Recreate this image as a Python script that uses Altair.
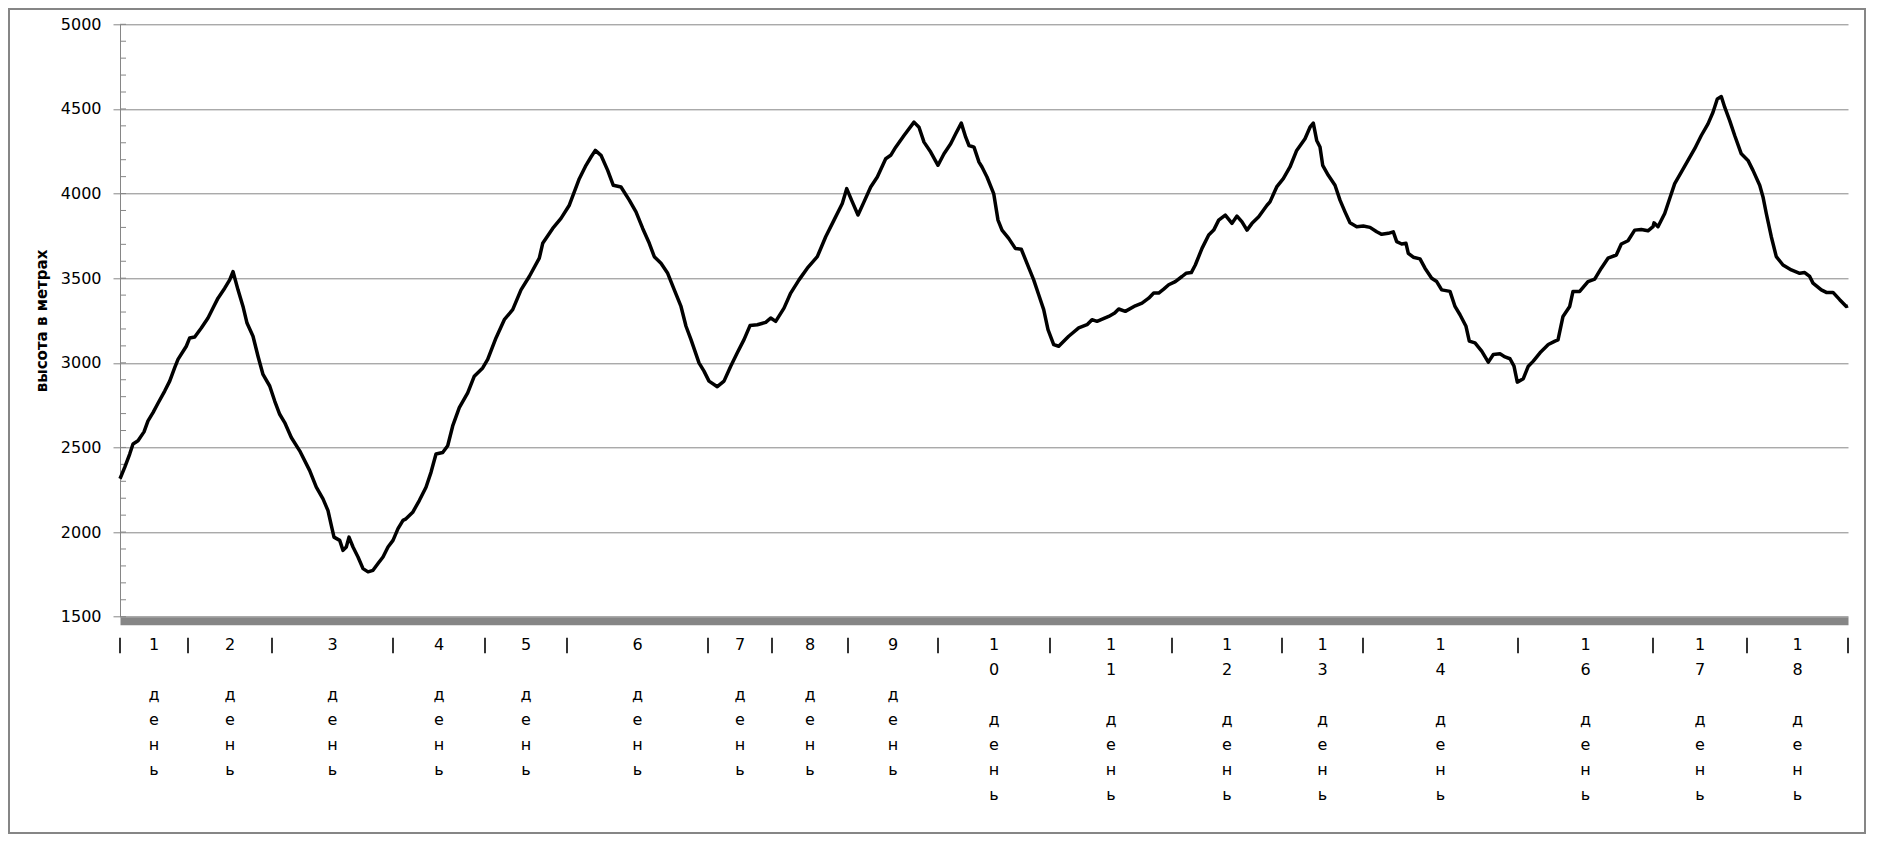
import altair as alt
import pandas as pd

# ---- elevation profile (distance index along route, elevation in metres) ----
dist = [0, 4.7, 9.7, 13, 18, 24, 28, 33, 38, 44.7, 49.7, 54.7, 58, 66.3, 69.7, 74.7, 81.3, 88, 93, 98,
        104.7, 109.7, 113, 118, 123, 127, 133, 138, 143, 149.7, 154.7, 159.7, 164.7, 171.3, 179.7,
        189.7, 196.3, 203, 208, 211.3, 214, 219.7, 223, 226.3, 229, 233, 238, 243, 248, 253, 258,
        263, 268, 273, 278, 283,
        286, 292.7, 299.3, 306, 311, 316, 322.7, 327.7, 332.7, 339.3, 347.7, 354.3, 362.7, 367.7,
        376, 384.3, 392.7, 401, 409.3, 419.3, 422.7, 432.7, 441, 449.3, 454.3, 459.3, 466, 471,
        475.3, 481, 487.7, 493.3, 501, 509.3, 516, 522.7, 529.3, 534.3, 541, 547.7, 554.3, 561,
        566, 571,
        579, 584, 589, 597.3, 604, 610.7, 617.3, 624, 630, 637.3, 645.7, 650.7, 655.7, 664, 670.7,
        679, 687.3, 697.3, 705.7, 714, 722.3, 726.7, 732.3, 738, 744, 750.7, 757.3, 765.7, 770.7,
        775.7, 784, 794, 799, 804, 810.7, 818, 824, 830.7, 835.7, 841.3, 845.7, 849, 854, 859,
        862, 867, 873.7, 878, 882, 888.7, 895.3, 901.3, 907, 913.7, 918.7, 923.7, 928, 933.7,
        938.7, 943.7, 948.7, 958.7, 967, 972, 977, 988.7, 994.7, 998.7, 1005.3, 1015.3, 1022,
        1028.7, 1033.7, 1038.7, 1043.7, 1048.7, 1055.3, 1062, 1066, 1071.3, 1075.3, 1082, 1088.7,
        1093.7, 1098.7, 1105.3, 1112, 1117, 1122, 1127, 1132, 1138.7, 1147,
        1150, 1156.7, 1163.3, 1170, 1176.7, 1185, 1190, 1193.3, 1196.7, 1200, 1202.7, 1208.3,
        1215, 1220, 1225, 1230, 1236.7, 1243.3, 1250, 1256.7, 1261.7, 1268.3, 1273.3, 1276.7,
        1281.7, 1286, 1288.3, 1293.3, 1300, 1305, 1311.7, 1316.7, 1321.7, 1330, 1335, 1340, 1346,
        1349.3, 1355, 1361.7, 1368.3, 1373.3, 1380, 1385, 1390, 1394, 1397.3, 1403.3, 1408.3,
        1413.3, 1420, 1428.3, 1435,
        1438, 1443, 1449.7, 1453, 1459.7, 1468, 1474.7, 1481.3, 1488, 1496.3, 1501.3, 1508,
        1514.7, 1521.3, 1528, 1533, 1534, 1538, 1544.7, 1549.7, 1554.7, 1561.3, 1568, 1574.7,
        1581.3, 1588, 1593, 1597.3, 1601.3, 1604.7, 1609.7, 1614.7, 1621.3, 1628, 1633, 1639.7,
        1643, 1646.3, 1651.3, 1656.3, 1663, 1671.3, 1679.7, 1684.7, 1689.7, 1693, 1701.3, 1706.3,
        1713, 1719.7, 1726.3, 1728]

elev = [2315, 2382, 2461, 2520, 2539, 2592, 2657, 2706, 2761, 2833, 2892, 2971, 3020, 3098, 3147,
        3153, 3206, 3265, 3324, 3382, 3441, 3490, 3539, 3431, 3333, 3235, 3157, 3039, 2931, 2863,
        2774, 2696, 2647, 2559, 2480, 2363, 2265, 2196, 2127, 2039, 1970, 1951, 1892, 1912, 1970,
        1912, 1853, 1784, 1765, 1774, 1814, 1853, 1912, 1951, 2020, 2069,
        2078, 2117, 2186, 2265, 2353, 2461, 2470, 2510, 2627, 2735, 2823, 2921, 2970, 3020, 3147,
        3255, 3314, 3431, 3510, 3618, 3706, 3794, 3853, 3931, 4010, 4088, 4167, 4216, 4255, 4226,
        4137, 4049, 4039, 3961, 3892, 3794, 3706, 3627, 3588, 3529, 3431, 3333, 3216, 3137,
        3000, 2951, 2892, 2859, 2892, 2980, 3059, 3137, 3220, 3225, 3239, 3265, 3245, 3323, 3412,
        3490, 3559, 3627, 3745, 3843, 3941, 4029, 3951, 3873, 3951, 4039, 4098, 4206, 4226, 4274,
        4343, 4422, 4392, 4304, 4245, 4167, 4235, 4294, 4353, 4416, 4333, 4284, 4274, 4186,
        4157, 4098, 4000, 3843, 3784, 3735, 3676, 3671, 3588, 3490, 3402, 3314, 3196, 3108, 3098,
        3128, 3157, 3206, 3225, 3255, 3245, 3274, 3294, 3318, 3304, 3337, 3353, 3382, 3412, 3412,
        3435, 3461, 3480, 3510, 3529, 3533, 3578, 3676, 3755, 3784, 3843, 3873, 3824, 3867, 3833,
        3784, 3824, 3863, 3931,
        3951, 4039, 4088, 4157, 4255, 4324, 4392, 4416, 4314, 4275, 4167, 4108, 4049, 3961, 3892,
        3827, 3804, 3808, 3800, 3774, 3759, 3765, 3774, 3716, 3702, 3706, 3647, 3624, 3614, 3559,
        3500, 3480, 3431, 3422, 3333, 3284, 3216, 3128, 3118, 3069, 3004, 3049, 3053, 3035, 3024,
        2980, 2886, 2906, 2980, 3010, 3059, 3108, 3128,
        3135, 3274, 3333, 3422, 3422, 3480, 3494, 3559, 3618, 3637, 3702, 3721, 3784, 3788, 3780,
        3804, 3827, 3804, 3882, 3971, 4059, 4127, 4196, 4265, 4343, 4412, 4480, 4559, 4573, 4510,
        4431, 4343, 4235, 4196, 4137, 4049, 3980, 3882, 3745, 3627, 3578, 3549, 3529, 3533, 3510,
        3471, 3431, 3416, 3416, 3373, 3333, 3337]

# ---- day boundaries (same distance units) and day labels ----
day_bounds = [0, 68, 152, 273, 365, 447, 588, 652, 728, 818, 930, 1052, 1162, 1243, 1398, 1533, 1627, 1728]
day_numbers = ["1", "2", "3", "4", "5", "6", "7", "8", "9", "10", "11", "12", "13", "14", "16", "17", "18"]
day_word = "день"

y_major = [1500, 2000, 2500, 3000, 3500, 4000, 4500, 5000]
y_minor = list(range(1500, 5001, 100))

GRAY = "#868686"
FONT = "DejaVu Sans"
LINE_H = 25
W, H = 1728, 592.4
TOTAL_W, TOTAL_H = 1858, 826
PAD = {"left": 112, "top": 16.3, "right": TOTAL_W - 112 - W, "bottom": TOTAL_H - 16.3 - H}

prof = pd.DataFrame({"dist": dist, "elev": elev})
mids = [(a + b) / 2 for a, b in zip(day_bounds[:-1], day_bounds[1:])]
lab = pd.DataFrame({
    "mid": mids,
    "num": ["\n".join(list(n)) for n in day_numbers],
    "word": ["\n".join(list(day_word))] * len(day_numbers),
    # the word starts one blank line below the (vertically stacked) day number
    "off": [(len(n) + 1) * LINE_H for n in day_numbers],
})
sep = pd.DataFrame({"b": day_bounds})
minor = pd.DataFrame({"v": y_minor})

xscale = alt.Scale(domain=[0, 1728], nice=False, zero=False)
yscale = alt.Scale(domain=[1500, 5000], nice=False, zero=False)

line = alt.Chart(prof).mark_line(color="black", strokeWidth=3.5, strokeJoin="round").encode(
    x=alt.X("dist:Q", scale=xscale,
            axis=alt.Axis(domain=True, domainWidth=8, domainColor=GRAY, ticks=False, labels=False,
                          grid=False, offset=4, title=None)),
    y=alt.Y("elev:Q", scale=yscale,
            axis=alt.Axis(values=y_major, format="d", grid=True, gridColor=GRAY, gridWidth=1,
                          gridOpacity=1, tickColor=GRAY, tickSize=7, tickWidth=1,
                          domainColor=GRAY, domainWidth=1,
                          labelFont=FONT, labelFontSize=16, labelColor="black", labelPadding=12,
                          labelFlush=False, labelOverlap=False,
                          title="высота в метрах", titleFont=FONT, titleFontSize=15,
                          titleFontWeight="bold", titleColor="black", titleAngle=270,
                          titleX=-73.3, titleY=H / 2, titleAlign="center",
                          titleBaseline="alphabetic")),
)

minor_ticks = alt.Chart(minor).mark_rule(color=GRAY, strokeWidth=1).encode(
    y=alt.Y("v:Q", scale=yscale), x=alt.value(0), x2=alt.value(6))

num_labels = alt.Chart(lab).mark_text(font=FONT, fontSize=16, lineBreak="\n", lineHeight=LINE_H,
                                      baseline="top", align="center", color="black").encode(
    x=alt.X("mid:Q", scale=xscale), y=alt.value(H + 20.3), text="num:N")

word_labels = alt.Chart(lab).mark_text(font=FONT, fontSize=16, lineBreak="\n", lineHeight=LINE_H,
                                       baseline="top", align="center", color="black").encode(
    x=alt.X("mid:Q", scale=xscale), y=alt.value(H + 20.3),
    yOffset=alt.YOffset("off:Q", scale=None), text="word:N")

seps = alt.Chart(sep).mark_rule(color="black", strokeWidth=1.6).encode(
    x=alt.X("b:Q", scale=xscale), y=alt.value(H + 21), y2=alt.value(H + 36.5))

frame = alt.Chart(pd.DataFrame({"k": [0]})).mark_rect(filled=False, stroke=GRAY, strokeWidth=2).encode(
    x=alt.value(-PAD["left"] + 1), x2=alt.value(W + PAD["right"] - 1),
    y=alt.value(-PAD["top"] + 1), y2=alt.value(H + PAD["bottom"] - 1))

chart = alt.layer(minor_ticks, line, num_labels, word_labels, seps, frame).properties(
    width=W, height=H, padding=PAD, autosize=alt.AutoSizeParams(type="none"),
    background="white",
).configure_view(stroke=None)

chart.save("out.html", embed_options={"renderer": "svg", "actions": False})
